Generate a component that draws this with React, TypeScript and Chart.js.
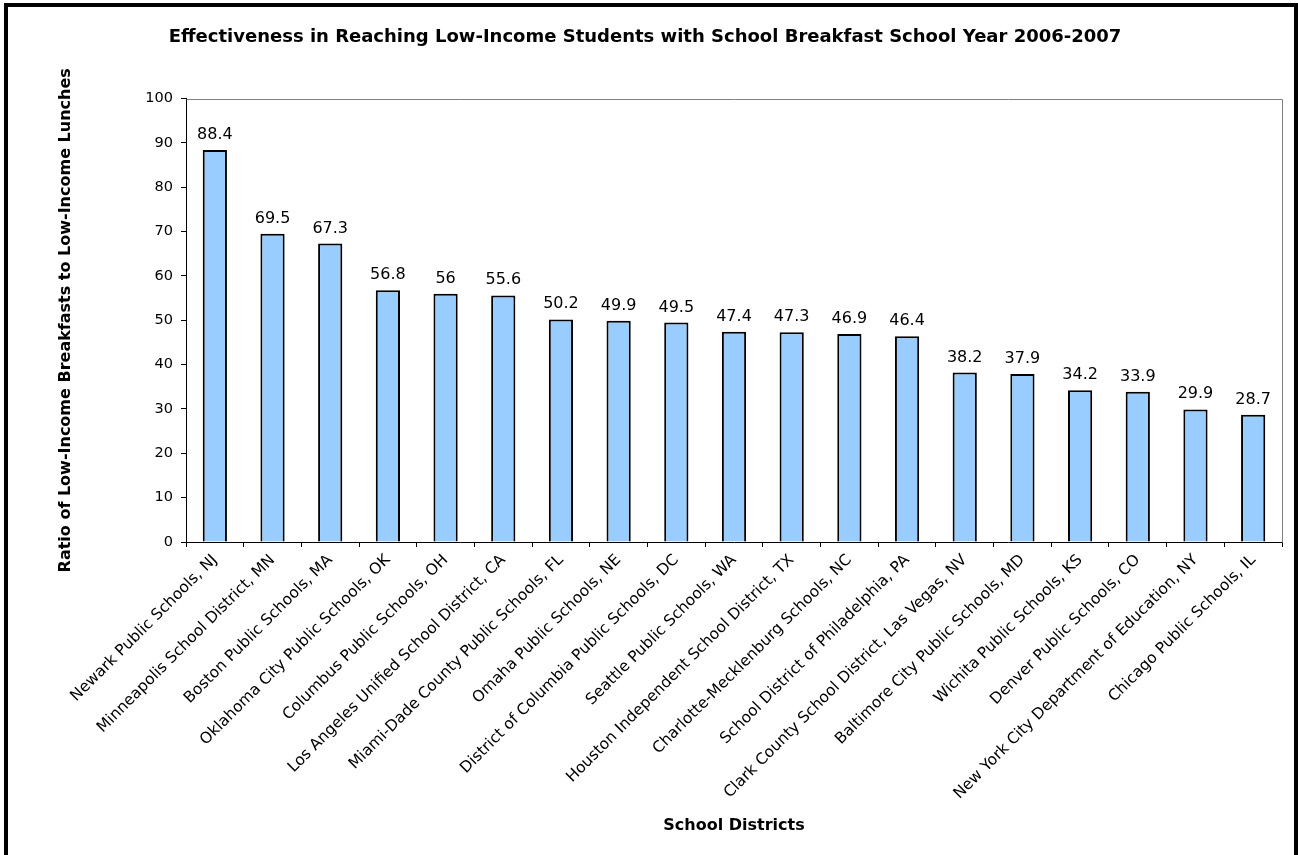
import React, { useEffect, useRef } from "react";
import { Chart, registerables } from "chart.js";

Chart.register(...registerables);

const CHART_TITLE =
  "Effectiveness in Reaching Low-Income Students with School Breakfast School Year 2006-2007";
const Y_TITLE = "Ratio of Low-Income Breakfasts to Low-Income Lunches";
const X_TITLE = "School Districts";

const districts = [
  "Newark Public Schools, NJ",
  "Minneapolis School District, MN",
  "Boston Public Schools, MA",
  "Oklahoma City Public Schools, OK",
  "Columbus Public Schools, OH",
  "Los Angeles Unified School District, CA",
  "Miami-Dade County Public Schools, FL",
  "Omaha Public Schools, NE",
  "District of Columbia Public Schools, DC",
  "Seattle Public Schools, WA",
  "Houston Independent School District, TX",
  "Charlotte-Mecklenburg Schools, NC",
  "School District of Philadelphia, PA",
  "Clark County School District, Las Vegas, NV",
  "Baltimore City Public Schools, MD",
  "Wichita Public Schools, KS",
  "Denver Public Schools, CO",
  "New York City Department of Education, NY",
  "Chicago Public Schools, IL",
];

const ratios = [
  88.4, 69.5, 67.3, 56.8, 56, 55.6, 50.2, 49.9, 49.5, 47.4, 47.3, 46.9, 46.4,
  38.2, 37.9, 34.2, 33.9, 29.9, 28.7,
];

const Y_MIN = 0;
const Y_MAX = 100;
const Y_STEP = 10;

const FONT = "'DejaVu Sans', Verdana, sans-serif";

export default function App() {
  const ref = useRef<HTMLCanvasElement | null>(null);

  useEffect(() => {
    const canvas = ref.current;
    if (!canvas) return;

    const framePlugin = {
      id: "frame",
      beforeDraw(chart: any) {
        const ctx = chart.ctx;
        ctx.save();
        ctx.fillStyle = "#ffffff";
        ctx.fillRect(0, 0, chart.width, chart.height);
        ctx.fillStyle = "#000000";
        ctx.fillRect(4, 3, 4, chart.height - 3);
        ctx.fillRect(4, 3, 1294, 4);
        ctx.fillRect(1294, 3, 4, chart.height - 3);
        ctx.restore();
      },
      afterDraw(chart: any) {
        const { ctx, chartArea } = chart;
        ctx.save();
        ctx.strokeStyle = "#808080";
        ctx.lineWidth = 1;
        ctx.beginPath();
        ctx.moveTo(Math.round(chartArea.left) + 0.5, Math.round(chartArea.top) + 0.5);
        ctx.lineTo(Math.round(chartArea.right) + 0.5, Math.round(chartArea.top) + 0.5);
        ctx.lineTo(Math.round(chartArea.right) + 0.5, Math.round(chartArea.bottom) + 0.5);
        ctx.stroke();
        ctx.restore();
      },
    };

    const labelPlugin = {
      id: "valueLabels",
      afterDatasetsDraw(chart: any) {
        const ctx = chart.ctx;
        const meta = chart.getDatasetMeta(0);
        ctx.save();
        ctx.font = `16px ${FONT}`;
        ctx.fillStyle = "#000";
        ctx.textAlign = "center";
        ctx.textBaseline = "alphabetic";
        meta.data.forEach((bar: any, i: number) => {
          ctx.fillText(String(ratios[i]), bar.x, bar.y - 11);
        });
        ctx.restore();
      },
    };

    const chart = new Chart(canvas, {
      type: "bar",
      data: {
        labels: districts,
        datasets: [
          {
            data: ratios,
            backgroundColor: "#99ccff",
            borderColor: "#000000",
            borderWidth: 2,
            barPercentage: 0.42,
            categoryPercentage: 1,
          },
        ],
      },
      options: {
        responsive: false,
        animation: false,
        devicePixelRatio: 1,
        layout: { padding: { left: 8, right: 16, top: 0, bottom: 0 } },
        plugins: {
          legend: { display: false },
          tooltip: { enabled: false },
          title: {
            display: true,
            text: CHART_TITLE,
            color: "#000",
            font: { family: FONT, size: 18, weight: "bold", lineHeight: 1.2 },
            padding: { top: 27, bottom: 50 },
          },
        },
        scales: {
          x: {
            afterFit(scale: any) {
              scale.height = 855 - 542;
            },
            grid: {
              display: true,
              drawOnChartArea: false,
              drawTicks: true,
              tickLength: 5,
              color: "#000",
              offset: true,
            },
            border: { display: true, color: "#000", width: 1 },
            ticks: {
              autoSkip: false,
              minRotation: 45,
              maxRotation: 45,
              color: "#000",
              padding: 4,
              font: { family: FONT, size: 15.5 },
            },
            title: {
              display: true,
              text: X_TITLE,
              color: "#000",
              font: { family: FONT, size: 16, weight: "bold", lineHeight: 1.2 },
              padding: { top: 0, bottom: 20 },
            },
          },
          y: {
            min: Y_MIN,
            max: Y_MAX,
            afterFit(scale: any) {
              scale.width = 186 - 8;
            },
            grid: {
              display: true,
              drawOnChartArea: false,
              drawTicks: true,
              tickLength: 5,
              color: "#000",
            },
            border: { display: true, color: "#000", width: 1 },
            ticks: {
              stepSize: Y_STEP,
              color: "#000",
              padding: 8,
              font: { family: FONT, size: 14.5 },
            },
            title: {
              display: true,
              text: Y_TITLE,
              color: "#000",
              font: { family: FONT, size: 16, weight: "bold", lineHeight: 1.2 },
              padding: { top: 48, bottom: 0 },
            },
          },
        },
      },
      plugins: [framePlugin, labelPlugin],
    });

    return () => chart.destroy();
  }, []);

  return (
    <div style={{ position: "absolute", left: 0, top: 0, width: 1298, height: 855 }}>
      <canvas ref={ref} width={1298} height={855} style={{ display: "block" }} />
    </div>
  );
}
